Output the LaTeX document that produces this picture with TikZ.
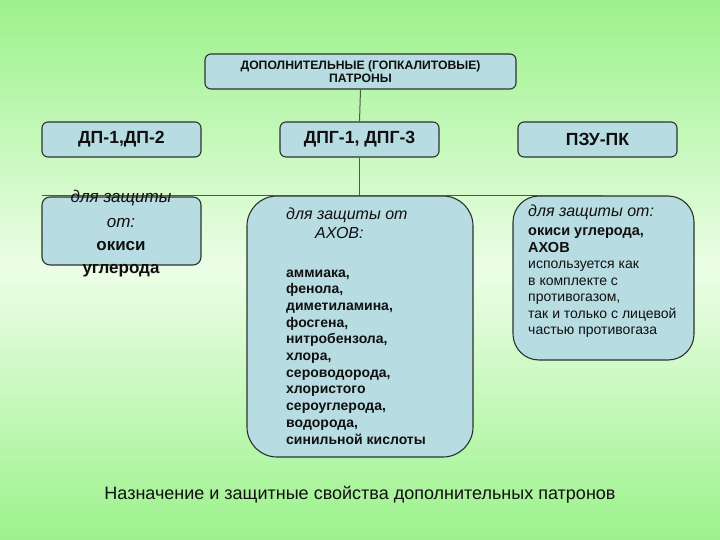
\documentclass[tikz,border=0pt]{standalone}
\usepackage{fontspec}
\setmainfont{Liberation Sans}
\definecolor{bgtop}{RGB}{156,242,140}
\definecolor{bgmid}{RGB}{236,254,230}
\definecolor{boxfill}{RGB}{183,221,226}
\definecolor{bordercol}{RGB}{45,50,45}
\definecolor{conncol}{RGB}{70,95,65}
\definecolor{txt}{RGB}{15,15,15}
\begin{document}
\begin{tikzpicture}[x=1pt,y=-1pt,
  box/.style={draw=bordercol, fill=boxfill, line width=1.1pt, rounded corners=#1},
  box/.default=6pt,
  conn/.style={draw=conncol, line width=1pt},
  ital/.style={font=\fontsize{#1}{#1}\selectfont\itshape, text=txt, inner sep=0pt},
  bld/.style={font=\fontsize{#1}{#1}\selectfont\bfseries, text=txt, inner sep=0pt},
  reg/.style={font=\fontsize{#1}{#1}\selectfont, text=txt, inner sep=0pt}]
\useasboundingbox (0,0) rectangle (720,540);
\shade[top color=bgtop, bottom color=bgtop, middle color=bgmid] (0,0) rectangle (720,540);

% boxes
\node[box, minimum width=311pt, minimum height=35pt, align=center,
      font=\fontsize{12.2}{13.5}\selectfont\bfseries, text=txt, inner sep=0pt] (top) at (360.5,71.5)
      {ДОПОЛНИТЕЛЬНЫЕ (ГОПКАЛИТОВЫЕ)\\ПАТРОНЫ};
\node[box, minimum width=159pt, minimum height=35pt, font=\fontsize{17.6}{19}\selectfont\bfseries, text=txt, inner sep=0pt] (dp) at (121.5,139.5) {ДП-1,ДП-2};
\node[box, minimum width=159pt, minimum height=35pt, font=\fontsize{17.6}{19}\selectfont\bfseries, text=txt, inner sep=0pt] (dpg) at (359.5,139.5) {ДПГ-1, ДПГ-3};
\node[box, minimum width=159pt, minimum height=35pt, font=\fontsize{17.6}{19}\selectfont\bfseries, text=txt, inner sep=0pt] (pzu) at (597.5,139.5) {ПЗУ-ПК};

\node[box=8pt, minimum width=159pt, minimum height=68pt, inner sep=0pt] (lbox) at (121.5,231) {};
\node[box=30pt, minimum width=226pt, minimum height=261pt, inner sep=0pt] (mbox) at (360,326.5) {};
\node[box=26pt, minimum width=181pt, minimum height=164pt, inner sep=0pt] (rbox) at (603.5,278) {};

% connectors
\coordinate (hl) at (42,196);
\coordinate (hr) at (603,196);
\draw[conn] (top.south) -- (dpg.north);
\draw[conn] (dpg.south) -- (dpg.south |- hl);
\draw[conn] (hl) -- (hr);

% left box text
\node[ital=17, anchor=base] (l1) at (121,203) {для защиты};
\node[ital=17, anchor=base] (l2) at (121,227) {от:};
\node[bld=17, anchor=base] (l3) at (121,250) {окиси};
\node[bld=17, anchor=base] (l4) at (121,273) {углерода};

% middle box text
\node[ital=16, anchor=base west] (m1) at (286,219) {для защиты от};
\node[ital=16, anchor=base west] (m2) at (315,238) {АХОВ:};
\foreach \t [count=\i from 0] in {аммиака{,}, фенола{,}, диметиламина{,}, фосгена{,},
   нитробензола{,}, хлора{,}, сероводорода{,}, хлористого, сероуглерода{,}, водорода{,}, синильной кислоты}
  \node[bld=14, anchor=base west] (ml\i) at (286,277+16.7*\i) {\t};

% right box text
\node[ital=16, anchor=base west] (r1) at (528,217) {для защиты от:};
\node[bld=14.5, anchor=base west] (r2) at (528,235.5) {окиси углерода,};
\node[bld=14.5, anchor=base west] (r3) at (528,252) {АХОВ};
\foreach \t [count=\i from 0] in {используется как, в комплекте с, противогазом{,}, так и только с лицевой, частью противогаза}
  \node[reg=14, anchor=base west] (rl\i) at (528,268.5+16.5*\i) {\t};

% caption
\node[reg=18, anchor=base] (cap) at (360,499) {Назначение и защитные свойства дополнительных патронов};
\end{tikzpicture}
\end{document}
